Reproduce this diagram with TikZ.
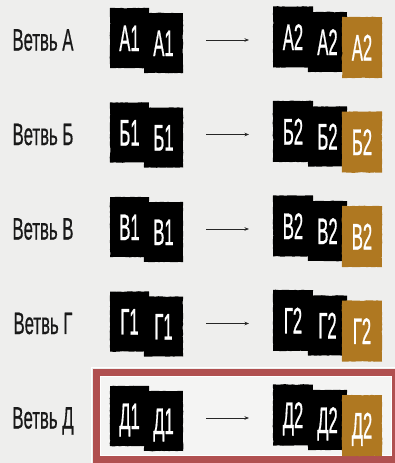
\documentclass[tikz,border=0pt]{standalone}
\usepackage{graphicx}
\usepackage{fontspec}
\setmainfont{Liberation Sans}
\newfontfamily\condfont[FakeBold=1.0]{Liberation Sans}
\newfontfamily\labfont[FakeBold=0.7]{Liberation Sans}
\usetikzlibrary{arrows.meta,decorations.pathmorphing}
\definecolor{bgcol}{RGB}{238,238,237}
\definecolor{innercol}{RGB}{244,244,243}
\definecolor{framered}{RGB}{176,80,80}
\definecolor{gold}{RGB}{175,120,33}
\newcommand{\cardtxt}[1]{\scalebox{0.45}[1]{#1}}
\newcommand{\labtxt}[1]{\scalebox{0.54}[1]{#1}}
\tikzset{
  card/.style={fill=black, inner sep=0pt, minimum width=39pt, minimum height=60pt,
    text=white, font=\condfont\fontsize{37}{37}\selectfont, text height=26pt, text depth=0pt,
    decorate, decoration={random steps, segment length=2.5pt, amplitude=0.3pt}},
  goldcard/.style={card, fill=gold, minimum width=40pt, minimum height=61pt},
  rowlabel/.style={inner sep=0pt, font=\labfont\fontsize{31}{31}\selectfont, text=black!90,
    text height=22pt, text depth=0pt},
  flow/.style={-{Stealth[length=4.5pt,width=3.5pt]}, line width=0.6pt, black!85}
}
\begin{document}
\begin{tikzpicture}[x=1pt,y=-1pt]
\fill[bgcol] (0,0) rectangle (395,463);
\useasboundingbox (0,0) rectangle (395,463);
% highlight frame for last row
\fill[innercol] (96.5,372.5) rectangle (395.5,459.5);
\draw[white, line width=1.5pt] (91.5,367.5) rectangle (400,465);
\draw[framered, line width=7pt] (96.5,372.5) rectangle (395.5,459.5);
\draw[white, line width=1.3pt] (100.8,376.8) rectangle (391.2,455.2);
\foreach \L/\i in {А/0,Б/1,В/2,Г/3,Д/4}{
  \pgfmathsetmacro{\t}{9+94.5*\i}
  \node[rowlabel] (lab\i) at (43,\t+30.5) {\labtxt{Ветвь \L}};
  \node[card] (c\i a) at (129.5,\t+29) {\cardtxt{\L1}};
  \node[card] (c\i b) at (163.5,\t+34) {\cardtxt{\L1}};
  \node[card, minimum width=40pt, minimum height=61pt] (d\i a) at (293,\t+28) {\cardtxt{\L2}};
  \node[card] (d\i b) at (327.5,\t+33) {\cardtxt{\L2}};
  \node[goldcard] (d\i c) at (362,\t+38.5) {\cardtxt{\L2}};
  \coordinate (s\i) at (206,\t+31);
  \coordinate (e\i) at (249,\t+31);
  \draw[flow] (s\i) -- (e\i);
}
\end{tikzpicture}
\end{document}
